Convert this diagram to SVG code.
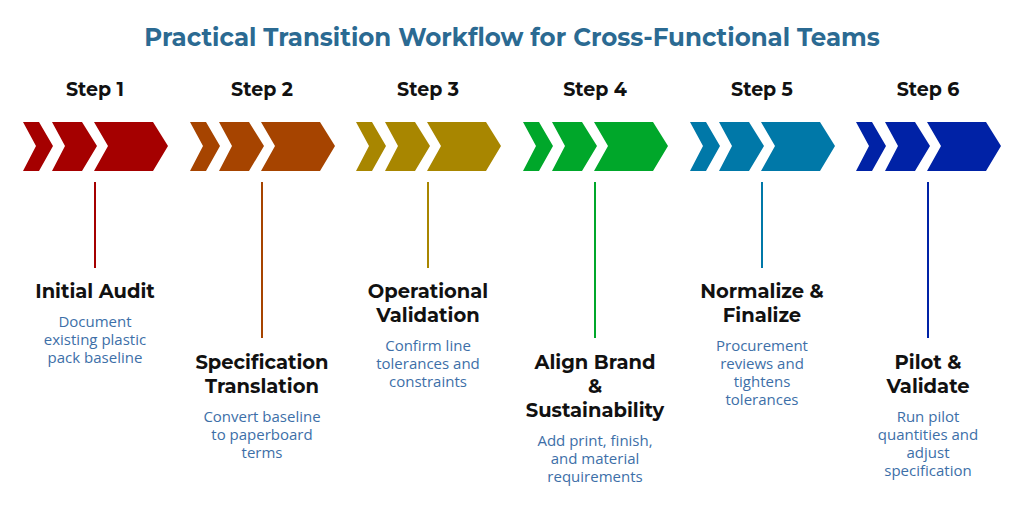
<svg xmlns="http://www.w3.org/2000/svg" width="1024" height="509" viewBox="0 0 1024 509">
<style>
.t{font-family:Montserrat,"Open Sans","Liberation Sans",sans-serif;font-weight:bold;text-anchor:middle}
.title{font-size:24.5px;fill:#2B6A92}
.step{font-size:19px;fill:#111}
.h{font-size:19.5px;fill:#111}
.d{font-family:"Open Sans","Liberation Sans",sans-serif;font-size:15px;fill:#3D6FA8;text-anchor:middle}
</style>
<defs>
<g id="chev">
<polygon points="-72,-24 -56,-24 -42,0 -56,25 -72,25 -59,0"/>
<polygon points="-43,-24 -13,-24 2,0 -13,25 -43,25 -30,0"/>
<polygon points="-1,-24 58,-24 73,0 58,25 -1,25 13,0"/>
</g>
</defs>
<rect width="1024" height="509" fill="#fff"/>
<text class="t title" x="512" y="46">Practical Transition Workflow for Cross-Functional Teams</text>
<g id="connectors" stroke-width="2">
<line x1="95" y1="182" x2="95" y2="268" stroke="#A50000"/>
<line x1="262" y1="182" x2="262" y2="338" stroke="#A64400"/>
<line x1="428" y1="182" x2="428" y2="268" stroke="#A88600"/>
<line x1="595" y1="182" x2="595" y2="338" stroke="#00A72A"/>
<line x1="762" y1="182" x2="762" y2="268" stroke="#0078A8"/>
<line x1="928" y1="182" x2="928" y2="338" stroke="#0022A6"/>
</g>
<g id="step1"><text class="t step" x="95" y="96">Step 1</text><use href="#chev" x="95" y="146" fill="#A50000"/>
<text class="t h" x="95" y="298">Initial Audit</text>
<text class="d" x="95" y="327">Document</text><text class="d" x="95" y="345">existing plastic</text><text class="d" x="95" y="363">pack baseline</text></g>
<g id="step2"><text class="t step" x="262" y="96">Step 2</text><use href="#chev" x="262" y="146" fill="#A64400"/>
<text class="t h" x="262" y="369">Specification</text><text class="t h" x="262" y="393">Translation</text>
<text class="d" x="262" y="422">Convert baseline</text><text class="d" x="262" y="440">to paperboard</text><text class="d" x="262" y="458">terms</text></g>
<g id="step3"><text class="t step" x="428" y="96">Step 3</text><use href="#chev" x="428" y="146" fill="#A88600"/>
<text class="t h" x="428" y="298">Operational</text><text class="t h" x="428" y="322">Validation</text>
<text class="d" x="428" y="351">Confirm line</text><text class="d" x="428" y="369">tolerances and</text><text class="d" x="428" y="387">constraints</text></g>
<g id="step4"><text class="t step" x="595" y="96">Step 4</text><use href="#chev" x="595" y="146" fill="#00A72A"/>
<text class="t h" x="595" y="369">Align Brand</text><text class="t h" x="595" y="393">&amp;</text><text class="t h" x="595" y="417">Sustainability</text>
<text class="d" x="595" y="446">Add print, finish,</text><text class="d" x="595" y="464">and material</text><text class="d" x="595" y="482">requirements</text></g>
<g id="step5"><text class="t step" x="762" y="96">Step 5</text><use href="#chev" x="762" y="146" fill="#0078A8"/>
<text class="t h" x="762" y="298">Normalize &amp;</text><text class="t h" x="762" y="322">Finalize</text>
<text class="d" x="762" y="351">Procurement</text><text class="d" x="762" y="369">reviews and</text><text class="d" x="762" y="387">tightens</text><text class="d" x="762" y="405">tolerances</text></g>
<g id="step6"><text class="t step" x="928" y="96">Step 6</text><use href="#chev" x="928" y="146" fill="#0022A6"/>
<text class="t h" x="928" y="369">Pilot &amp;</text><text class="t h" x="928" y="393">Validate</text>
<text class="d" x="928" y="422">Run pilot</text><text class="d" x="928" y="440">quantities and</text><text class="d" x="928" y="458">adjust</text><text class="d" x="928" y="476">specification</text></g>
</svg>
